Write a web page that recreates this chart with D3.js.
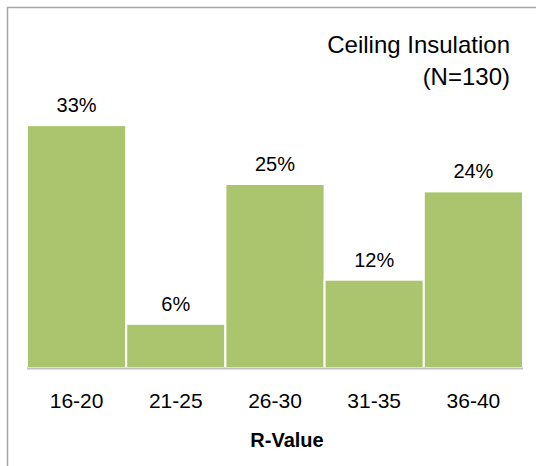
<!DOCTYPE html>
<html><head><meta charset="utf-8">
<script src="https://cdn.jsdelivr.net/npm/d3@7"></script>
<style>body{margin:0;background:#fff}svg{display:block}text{font-family:"Liberation Sans",Arial,sans-serif;fill:#000}</style>
</head><body>
<svg id="c" width="536" height="466"></svg>
<script>
const categories = ["16-20","21-25","26-30","31-35","36-40"];
const values = [33, 6, 25, 12, 24];
const titleLines = ["Ceiling Insulation","(N=130)"];
const xTitle = "R-Value";

const svg = d3.select("#c");
const W = 536, H = 466;
svg.append("path").attr("d","M7.5,"+H+"V7.5H"+W).attr("fill","none").attr("stroke","#a6a6a6").attr("stroke-width",1.5);

const x = d3.scaleBand().domain(categories).range([27,523]).padding(0);
const y = d3.scaleLinear().domain([0,35]).range([368,368-7.36*35]);

svg.selectAll("rect.bar").data(values).join("rect").attr("class","bar")
  .attr("x",(d,i)=>x(categories[i])).attr("width",x.bandwidth())
  .attr("y",d=>y(d)).attr("height",d=>y(0)-y(d))
  .attr("fill","#abc56f").attr("stroke","#fff").attr("stroke-width",2);

svg.append("line").attr("x1",27).attr("x2",523).attr("y1",368.5).attr("y2",368.5)
  .attr("stroke","#bfbfbf").attr("stroke-width",2);

svg.selectAll("text.val").data(values).join("text").attr("class","val")
  .attr("x",(d,i)=>x(categories[i])+x.bandwidth()/2).attr("y",d=>y(d)-13)
  .attr("text-anchor","middle").attr("font-size",20).text(d=>d+"%");

const ax = svg.append("g").attr("transform","translate(0,368)")
  .call(d3.axisBottom(x).tickSize(0).tickPadding(0));
ax.select(".domain").remove();
ax.selectAll("text").attr("font-size",21).attr("font-family","Liberation Sans, Arial, sans-serif")
  .attr("fill","#000").attr("dy",null).attr("y",40);

svg.append("text").attr("x",287).attr("y",447).attr("text-anchor","middle")
  .attr("font-size",20).attr("font-weight","bold").text(xTitle);

svg.selectAll("text.title").data(titleLines).join("text").attr("class","title")
  .attr("x",510).attr("y",(d,i)=>53+i*32).attr("text-anchor","end")
  .attr("font-size",24).text(d=>d);
</script>
</body></html>
